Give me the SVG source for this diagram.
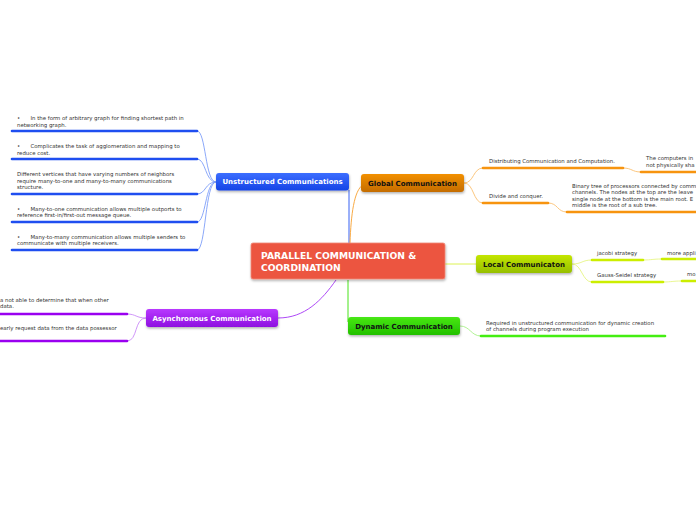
<svg xmlns="http://www.w3.org/2000/svg" width="696" height="520" viewBox="0 0 696 520">
<defs>
<linearGradient id="gBlue" x1="0" y1="0" x2="0" y2="1"><stop offset="0" stop-color="#3c6eff"/><stop offset="1" stop-color="#1544e6"/></linearGradient>
<linearGradient id="gOrange" x1="0" y1="0" x2="0" y2="1"><stop offset="0" stop-color="#f29000"/><stop offset="1" stop-color="#c46c00"/></linearGradient>
<linearGradient id="gLime" x1="0" y1="0" x2="0" y2="1"><stop offset="0" stop-color="#c4e600"/><stop offset="1" stop-color="#96bf00"/></linearGradient>
<linearGradient id="gGreen" x1="0" y1="0" x2="0" y2="1"><stop offset="0" stop-color="#48e814"/><stop offset="1" stop-color="#22c000"/></linearGradient>
<linearGradient id="gPurple" x1="0" y1="0" x2="0" y2="1"><stop offset="0" stop-color="#b838ff"/><stop offset="1" stop-color="#8e10e0"/></linearGradient>
<filter id="sh" x="-10%" y="-20%" width="120%" height="160%"><feDropShadow dx="0.5" dy="1.5" stdDeviation="1" flood-color="#000" flood-opacity="0.3"/></filter>
</defs>
<style>
text{font-family:"DejaVu Sans","Liberation Sans",sans-serif;white-space:pre;}
.t{font-size:5.4px;fill:#333;}
.n{font-size:7px;font-weight:bold;text-anchor:middle;}
.w{fill:#fff;}
.k{fill:#111;}
.c{fill:none;stroke-width:0.9;}
.u{fill:none;stroke-width:2.6;stroke-linecap:round;}
</style>
<rect width="696" height="520" fill="#fff"/>
<g id="connectors">
<path class="c" d="M349,190 L349,243" stroke="#1f4ef0" stroke-width="1.6"/>
<path class="c" d="M363,185 C354,190 351,215 350,243" stroke="#f7a030" stroke-width="1.4"/>
<path class="c" d="M445,264 L476,264" stroke="#d8f040" stroke-width="1.6"/>
<path class="c" d="M348,280 L348,322" stroke="#33e000" stroke-width="1.6"/>
<path class="c" d="M336,280 C322,300 305,318 278,318" stroke="#a433f5" stroke-width="1.4"/>
<g stroke="#7e9ef8">
<path class="c" d="M216,182 C205,182 206,131 197,131"/>
<path class="c" d="M216,182 C205,182 206,159 197,159"/>
<path class="c" d="M216,182 C205,182 206,194 197,194"/>
<path class="c" d="M216,182 C205,182 206,222 197,222"/>
<path class="c" d="M216,182 C205,182 206,250 197,250"/>
</g>
<g stroke="#1f4ef0">
<path class="u" d="M12,131 L197,131"/>
<path class="u" d="M12,159 L197,159"/>
<path class="u" d="M12,194 L197,194"/>
<path class="u" d="M12,222 L197,222"/>
<path class="u" d="M12,250 L197,250"/>
</g>
<g stroke="#c98af7">
<path class="c" d="M146,318 C136,318 136,314 127,314"/>
<path class="c" d="M146,318 C134,318 138,341 127,341"/>
</g>
<g stroke="#9a00f0">
<path class="u" d="M-2,314 L127,314"/>
<path class="u" d="M-2,341 L127,341"/>
</g>
<g stroke="#fbc070">
<path class="c" d="M464,183 C474,183 473,168 483,168"/>
<path class="c" d="M464,183 C474,183 473,203 483,203"/>
<path class="c" d="M623,168 C632,168 632,172 641,172"/>
<path class="c" d="M548,203 C558,203 557,212 567,212"/>
</g>
<g stroke="#f7940f">
<path class="u" d="M483,168 L623,168"/>
<path class="u" d="M641,172 L698,172"/>
<path class="u" d="M483,203 L548,203"/>
<path class="u" d="M567,212 L698,212"/>
</g>
<g stroke="#e6f585">
<path class="c" d="M572,264 C582,264 582,260 592,260"/>
<path class="c" d="M572,264 C582,264 582,282 592,282"/>
<path class="c" d="M643,260 C652,260 652,259 662,259"/>
<path class="c" d="M663,282 C672,282 672,281 682,281"/>
</g>
<g stroke="#ccee00">
<path class="u" d="M592,260 L643,260"/>
<path class="u" d="M662,259 L698,259"/>
<path class="u" d="M592,282 L663,282"/>
<path class="u" d="M682,281 L698,281"/>
</g>
<path class="c" d="M460,326 C470,326 471,336 481,336" stroke="#a8f088"/>
<path class="u" d="M481,336 L665,336" stroke="#44ee11"/>
</g>
<g id="central">
<rect x="251" y="243" width="194" height="36" rx="2" fill="#ec5540" stroke="#f08a78" stroke-width="0.8" filter="url(#sh)"/>
<text x="261" y="259" font-size="9.2" font-weight="bold" fill="#fff">PARALLEL COMMUNICATION &amp;</text>
<text x="261" y="270.5" font-size="9.2" font-weight="bold" fill="#fff">COORDINATION</text>
</g>
<g id="unstructured">
<rect x="216" y="173" width="133" height="17.5" rx="3" fill="url(#gBlue)" filter="url(#sh)"/>
<text class="n w" x="282.5" y="184.3">Unstructured Communications</text>
<text class="t" x="17" y="120">•      In the form of arbitrary graph for finding shortest path in</text>
<text class="t" x="17" y="126.5">networking graph.</text>
<text class="t" x="17" y="148">•      Complicates the task of agglomeration and mapping to</text>
<text class="t" x="17" y="154.5">reduce cost.</text>
<text class="t" x="17" y="176">Different vertices that have varying numbers of neighbors</text>
<text class="t" x="17" y="182.5">require many-to-one and many-to-many communications</text>
<text class="t" x="17" y="189">structure.</text>
<text class="t" x="17" y="211">•      Many-to-one communication allows multiple outports to</text>
<text class="t" x="17" y="217">reference first-in/first-out message queue.</text>
<text class="t" x="17" y="239">•      Many-to-many communication allows multiple senders to</text>
<text class="t" x="17" y="245">communicate with multiple receivers.</text>
</g>
<g id="global">
<rect x="361" y="174" width="103" height="18" rx="3" fill="url(#gOrange)" filter="url(#sh)"/>
<text class="n k" x="412.5" y="185.5">Global Communication</text>
<text class="t" x="489" y="163">Distributing Communication and Computation.</text>
<text class="t" x="646" y="160">The computers in</text>
<text class="t" x="646" y="166.5">not physically sha</text>
<text class="t" x="489" y="198">Divide and conquer.</text>
<text class="t" x="572" y="187.5">Binary tree of processors connected by comm</text>
<text class="t" x="572" y="194">channels. The nodes at the top are the leave</text>
<text class="t" x="572" y="200.5">single node at the bottom is the main root. E</text>
<text class="t" x="572" y="207">middle is the root of a sub tree.</text>
</g>
<g id="local">
<rect x="476" y="255" width="96" height="18" rx="3" fill="url(#gLime)" filter="url(#sh)"/>
<text class="n k" x="524" y="266.5">Local Communicaton</text>
<text class="t" x="597" y="255">jacobi strategy</text>
<text class="t" x="667" y="255">more appli</text>
<text class="t" x="597" y="276.5">Gauss-Seidel strategy</text>
<text class="t" x="687" y="276">mo</text>
</g>
<g id="dynamic">
<rect x="348" y="317" width="112" height="18" rx="3" fill="url(#gGreen)" filter="url(#sh)"/>
<text class="n k" x="404" y="328.5">Dynamic Communication</text>
<text class="t" x="486" y="324.5">Required in unstructured communication for dynamic creation</text>
<text class="t" x="486" y="331">of channels during program execution</text>
</g>
<g id="async">
<rect x="146" y="309" width="132" height="18" rx="3" fill="url(#gPurple)" filter="url(#sh)"/>
<text class="n w" x="212" y="320.5">Asynchronous Communication</text>
<text class="t" x="0" y="301.5">a not able to determine that when other</text>
<text class="t" x="0" y="308">data.</text>
<text class="t" x="0" y="329.5">early request data from the data possessor</text>
</g>
</svg>
